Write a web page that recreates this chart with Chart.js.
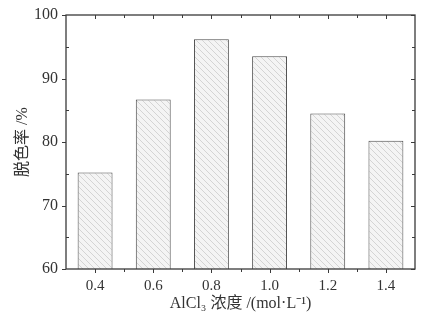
<!DOCTYPE html>
<html>
<head>
<meta charset="utf-8">
<script src="https://cdn.jsdelivr.net/npm/chart.js@4.4.1/dist/chart.umd.min.js"></script>
<style>
  html, body { margin: 0; padding: 0; background: #fff; }
  #wrap { width: 441px; height: 316px; }
</style>
</head>
<body>
<div id="wrap"><canvas id="chart" width="441" height="316"></canvas></div>
<script>
  // data
  const concentrations = ["0.4", "0.6", "0.8", "1.0", "1.2", "1.4"];
  const decolorRate = [75.2, 86.7, 96.2, 93.5, 84.5, 80.2];
  const yMin = 60, yMax = 100, yStep = 10;

  const serif = "'Liberation Serif', 'Noto Sans CJK SC', serif";
  const axisColor = "#3a3a3a";

  // diagonal hatch fill for the bars
  function makeHatch() {
    const c = document.createElement("canvas");
    c.width = 6; c.height = 6;
    const g = c.getContext("2d");
    g.fillStyle = "#f4f4f4";
    g.fillRect(0, 0, 6, 6);
    g.strokeStyle = "#d0d0d0";
    g.lineWidth = 0.9;
    g.beginPath();
    g.moveTo(-1, -1); g.lineTo(7, 7);
    g.moveTo(-7, -1); g.lineTo(1, 7);
    g.moveTo(5, -1); g.lineTo(13, 7);
    g.stroke();
    return g.createPattern(c, "repeat");
  }

  // frame + major/minor ticks (Origin style)
  const framePlugin = {
    id: "frame",
    afterDraw(chart) {
      const { ctx, chartArea: a, scales } = chart;
      const x = scales.x, y = scales.y;
      ctx.save();
      ctx.strokeStyle = axisColor;
      ctx.lineWidth = 1.3;
      ctx.strokeRect(a.left, a.top, a.right - a.left, a.bottom - a.top);
      ctx.lineWidth = 1;
      ctx.beginPath();
      // y ticks
      for (let v = yMin; v <= yMax; v += yStep / 2) {
        const py = Math.round(y.getPixelForValue(v)) + 0.5;
        const major = (v - yMin) % yStep === 0;
        if (major) {
          ctx.moveTo(a.left - 4, py); ctx.lineTo(a.left, py);
          ctx.moveTo(a.right - 4, py); ctx.lineTo(a.right, py);
        } else {
          ctx.moveTo(a.left, py); ctx.lineTo(a.left + 3, py);
          ctx.moveTo(a.right - 3, py); ctx.lineTo(a.right, py);
        }
      }
      // x ticks: majors at categories, minors halfway
      for (let i = 0; i < concentrations.length; i++) {
        const px = Math.round(x.getPixelForValue(i)) + 0.5;
        ctx.moveTo(px, a.bottom); ctx.lineTo(px, a.bottom + 4);
        ctx.moveTo(px, a.top); ctx.lineTo(px, a.top + 4);
        if (i < concentrations.length - 1) {
          const mx = Math.round((x.getPixelForValue(i) + x.getPixelForValue(i + 1)) / 2) + 0.5;
          ctx.moveTo(mx, a.bottom); ctx.lineTo(mx, a.bottom + 3);
          ctx.moveTo(mx, a.top); ctx.lineTo(mx, a.top + 3);
        }
      }
      ctx.stroke();
      ctx.restore();
    }
  };

  new Chart(document.getElementById("chart"), {
    type: "bar",
    data: {
      labels: concentrations,
      datasets: [{
        data: decolorRate,
        backgroundColor: makeHatch(),
        borderColor: "#4a4a4a",
        borderWidth: 1,
        borderSkipped: "bottom",
        categoryPercentage: 1.0,
        barPercentage: 0.6
      }]
    },
    options: {
      responsive: false,
      animation: false,
      layout: { padding: { top: 15, right: 26, left: 0, bottom: 0 } },
      plugins: {
        legend: { display: false },
        tooltip: { enabled: false }
      },
      scales: {
        x: {
          grid: { display: false },
          border: { display: false },
          ticks: { color: "#333", font: { family: serif, size: 15 }, padding: 0, maxRotation: 0 },
          title: {
            display: true,
            text: "AlCl₃ 浓度 /(mol·L⁻¹)",
            color: "#333",
            font: { family: serif, size: 16 },
            padding: { top: 0, bottom: 3 }
          },
          afterFit(scale) { scale.height = 47; }
        },
        y: {
          min: yMin,
          max: yMax,
          grid: { display: false },
          border: { display: false },
          ticks: { stepSize: yStep, color: "#333", font: { family: serif, size: 16 }, padding: 0 },
          title: {
            display: true,
            text: "脱色率 /%",
            color: "#333",
            font: { family: serif, size: 16 },
            padding: { top: 13, bottom: 0 }
          },
          afterFit(scale) { scale.width = 66; }
        }
      }
    },
    plugins: [framePlugin]
  });
</script>
</body>
</html>
